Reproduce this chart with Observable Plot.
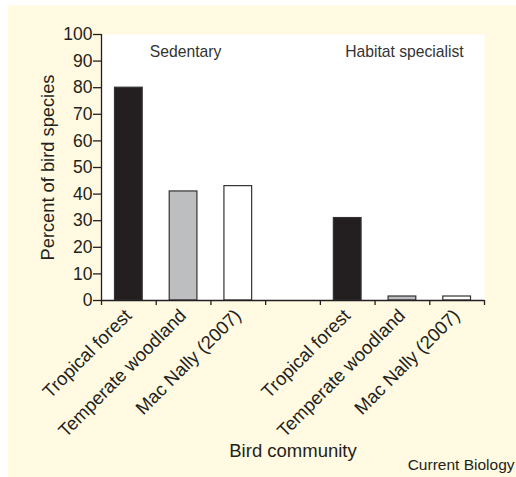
<!DOCTYPE html>
<html>
<head>
<meta charset="utf-8">
<script src="https://cdn.jsdelivr.net/npm/d3@7"></script>
<script src="https://cdn.jsdelivr.net/npm/@observablehq/plot@0.6"></script>
<style>
  html, body { margin: 0; padding: 0; background: #ffffff; }
  #panel { position: absolute; left: 8px; top: 5px; width: 508px; height: 472px; background: #fffae1; }
  #panel svg { overflow: visible; }
</style>
</head>
<body>
<div id="panel"></div>
<script>
// ---- data ----
const categories = ["Tropical forest", "Temperate woodland", "Mac Nally (2007)", "", "Tropical forest", "Temperate woodland", "Mac Nally (2007)"];
const values = [80, 41, 43, null, 31, 1.5, 1.5];
const communityType = ["tropical", "temperate", "macnally", null, "tropical", "temperate", "macnally"];
const typeFill = { tropical: "#231f20", temperate: "#bcbec0", macnally: "#ffffff" };
const groupLabels = ["Sedentary", "Habitat specialist"];
const groupStart = [0, 4];
const groupSize = [3, 3];
const yTicks = [0, 10, 20, 30, 40, 50, 60, 70, 80, 90, 100];
const xTitle = "Bird community";
const yTitle = "Percent of bird species";
const source = "Current Biology";

const slots = categories.map((c, i) => ({ i, label: c, value: values[i], fill: communityType[i] ? typeFill[communityType[i]] : null }));
const bars = slots.filter(d => d.value != null);
const labels = slots.filter(d => d.label !== "");
const groups = groupLabels.map((g, k) => ({ label: g, center: groupStart[k] + groupSize[k] / 2 }));
const ink = "#231f20";

const chart = Plot.plot({
  width: 508,
  height: 472,
  marginLeft: 93,
  marginRight: 32,
  marginTop: 29,
  marginBottom: 177,
  style: { background: "transparent", fontFamily: "'Liberation Sans', Arial, Helvetica, sans-serif", color: ink, overflow: "visible" },
  x: { domain: [0, categories.length], axis: null },
  y: { domain: [0, 100], axis: null },
  color: { type: "identity" },
  marks: [
    Plot.frame({ fill: "white", stroke: null }),
    Plot.rectY(bars, { x1: "i", x2: d => d.i + 1, y: "value", fill: "fill", stroke: "#333", strokeWidth: 1.2, insetLeft: 13.5, insetRight: 13.5 }),
    Plot.ruleX([0], { stroke: ink, strokeWidth: 1.3 }),
    Plot.ruleY([0], { stroke: ink, strokeWidth: 1.3 }),
    Plot.axisY({ ticks: yTicks, tickSize: 8, tickPadding: 1, fontSize: 17.5, label: null, strokeWidth: 1.3 }),
    Plot.axisX({ ticks: d3.range(categories.length + 1), tickSize: 5, tickFormat: () => "", label: null, strokeWidth: 1.3 }),
    Plot.text(labels, { x: d => d.i + 0.5, y: 0, text: "label", rotate: -45, textAnchor: "end", lineAnchor: "top", dy: 7, dx: -5.5, fontSize: 18.5, fill: ink }),
    Plot.text(groups, { x: "center", y: 100, text: "label", textAnchor: "middle", lineAnchor: "middle", dy: 17, dx: 2, fontSize: 15.7, fill: "#333" }),
    Plot.text([yTitle], { frameAnchor: "left", rotate: -90, textAnchor: "middle", lineAnchor: "middle", dx: -53, fontSize: 18.3, fill: ink }),
    Plot.text([xTitle], { frameAnchor: "bottom", textAnchor: "middle", lineAnchor: "middle", dy: 151, fontSize: 18.5, fill: ink }),
    Plot.text([source], { frameAnchor: "bottom-right", textAnchor: "end", lineAnchor: "middle", dx: 30, dy: 165, fontSize: 15.5, fill: ink })
  ]
});
document.getElementById("panel").appendChild(chart);
</script>
</body>
</html>
